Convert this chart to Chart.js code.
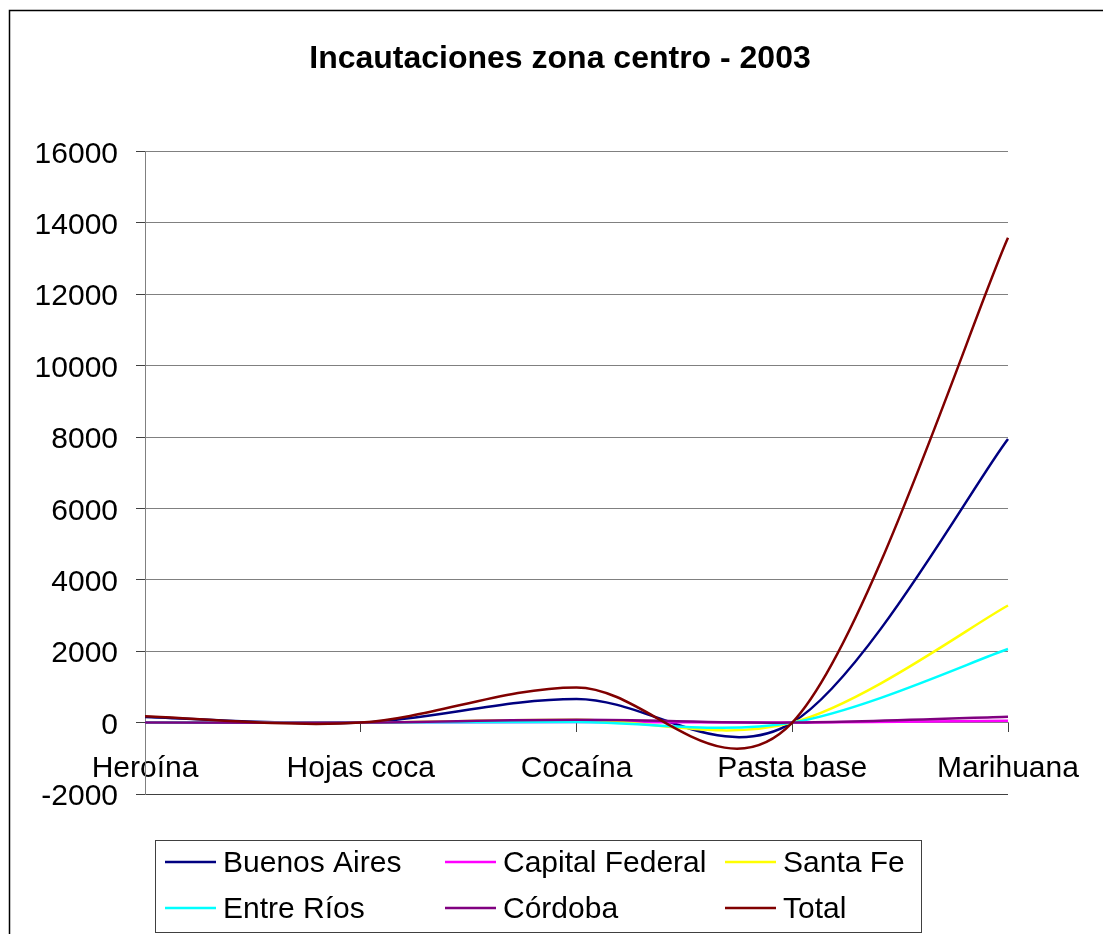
<!DOCTYPE html>
<html><head><meta charset="utf-8">
<script src="https://cdn.jsdelivr.net/npm/chart.js@4.4.1/dist/chart.umd.min.js"></script>
<style>html,body{margin:0;padding:0;background:#fff;}#wrap{width:1103px;height:934px;position:relative;}</style>
</head><body><div id="wrap"><canvas id="c" width="1103" height="934"></canvas></div>
<script>
const categories = ['Heroína', 'Hojas coca', 'Cocaína', 'Pasta base', 'Marihuana'];
const buenosAires = [160, 0, 664, 0, 7945];
const capitalFederal = [5, 0, 20, 0, 50];
const santaFe = [0, 0, 80, 0, 3280];
const entreRios = [0, 0, 15, 0, 2060];
const cordoba = [5, 0, 80, 0, 165];
const total = [175, 0, 985, 0, 13580];
const yTickValues = [-2000, 0, 2000, 4000, 6000, 8000, 10000, 12000, 14000, 16000];
const seriesNames = ['Buenos Aires', 'Capital Federal', 'Santa Fe', 'Entre Ríos', 'Córdoba', 'Total'];
const seriesColors = ['#000080', '#FF00FF', '#FFFF00', '#00FFFF', '#800080', '#800000'];
const seriesData = [buenosAires, capitalFederal, santaFe, entreRios, cordoba, total];
const titleText = 'Incautaciones zona centro - 2003';

const FONT = "'Liberation Sans', Arial, sans-serif";
Chart.defaults.font.family = FONT;

// Excel-like smoothing (Catmull-Rom) computed from the scale-derived point positions
const catmullRom = {
  id: 'catmullRom',
  beforeDatasetsDraw(chart) {
    chart.getSortedVisibleDatasetMetas().forEach(meta => {
      const line = meta.dataset;
      if (!line || !line.updateControlPoints) return;
      line.updateControlPoints(chart.chartArea, 'x');
      const pts = meta.data;
      const n = pts.length;
      for (let i = 0; i < n; i++) {
        const p = pts[i];
        const prev = pts[Math.max(i - 1, 0)];
        const next = pts[Math.min(i + 1, n - 1)];
        const dx = (next.x - prev.x) / 6, dy = (next.y - prev.y) / 6;
        p.cp1x = p.x - dx; p.cp1y = p.y - dy;
        p.cp2x = p.x + dx; p.cp2y = p.y + dy;
      }
      line._path = undefined;
    });
  }
};

const frameAndLegend = {
  id: 'frameAndLegend',
  afterDraw(chart) {
    const ctx = chart.ctx;
    ctx.save();
    // outer chart border
    ctx.strokeStyle = '#000';
    ctx.lineWidth = 1.5;
    ctx.strokeRect(9.5, 10.5, 1110, 940);
    // legend box
    const bx = 155.5, by = 840.5, bw = 766, bh = 92;
    ctx.strokeStyle = '#404040';
    ctx.lineWidth = 1;
    ctx.strokeRect(bx, by, bw, bh);
    ctx.font = '30px ' + FONT;
    ctx.textBaseline = 'middle';
    ctx.textAlign = 'left';
    chart.data.datasets.forEach((ds, i) => {
      const col = i % 3, row = Math.floor(i / 3);
      const x = 165 + col * 280, y = 862 + row * 46;
      ctx.strokeStyle = ds.borderColor;
      ctx.lineWidth = 2.5;
      ctx.beginPath(); ctx.moveTo(x, y); ctx.lineTo(x + 51, y); ctx.stroke();
      ctx.fillStyle = '#000';
      ctx.fillText(ds.label, x + 58, y + 2);
    });
    ctx.restore();
  }
};

new Chart(document.getElementById('c'), {
  type: 'line',
  data: {
    labels: categories,
    datasets: seriesNames.map((name, i) => ({
      label: name,
      data: seriesData[i],
      borderColor: seriesColors[i],
      backgroundColor: seriesColors[i],
      borderWidth: 2.5,
      pointRadius: 0,
      tension: 0.4,
      fill: false,
      order: seriesNames.length - i
    }))
  },
  options: {
    responsive: false,
    devicePixelRatio: 1,
    animation: false,
    layout: { padding: { left: 17, right: 0, top: 0, bottom: 140 } },
    plugins: {
      legend: { display: false },
      tooltip: { enabled: false },
      title: {
        display: true,
        text: titleText,
        color: '#000',
        font: { family: FONT, size: 32, weight: 'bold' },
        padding: { top: 40, bottom: 73 }
      }
    },
    scales: {
      x: {
        type: 'category',
        position: { y: 0 },
        offset: false,
        grid: { display: true, drawOnChartArea: false, drawTicks: true, tickLength: 9, tickColor: '#404040', color: '#404040' },
        border: { display: true, color: '#808080', width: 1 },
        ticks: { color: '#000', font: { family: FONT, size: 30 }, padding: 19, autoSkip: false, maxRotation: 0, minRotation: 0 }
      },
      y: {
        type: 'linear',
        position: 'left',
        min: -2000,
        max: 16000,
        afterBuildTicks: (axis) => { axis.ticks = yTickValues.map(v => ({ value: v })); },
        afterFit: (axis) => { axis.width = 128; },
        grid: {
          color: (c) => (c.tick && c.tick.value === -2000) ? '#404040' : '#808080',
          lineWidth: 1,
          tickLength: 9,
          tickColor: '#404040'
        },
        border: { display: true, color: '#808080', width: 1 },
        ticks: { color: '#000', font: { family: FONT, size: 30 }, padding: 18, labelOffset: 3, callback: (v) => String(v) }
      },
      yRight: {
        axis: 'y',
        type: 'linear',
        position: 'right',
        display: true,
        grid: { display: false, drawTicks: false },
        border: { display: false },
        ticks: { display: false },
        afterFit: (axis) => { axis.width = 95; }
      }
    }
  },
  plugins: [catmullRom, frameAndLegend]
});
</script>
</body></html>
